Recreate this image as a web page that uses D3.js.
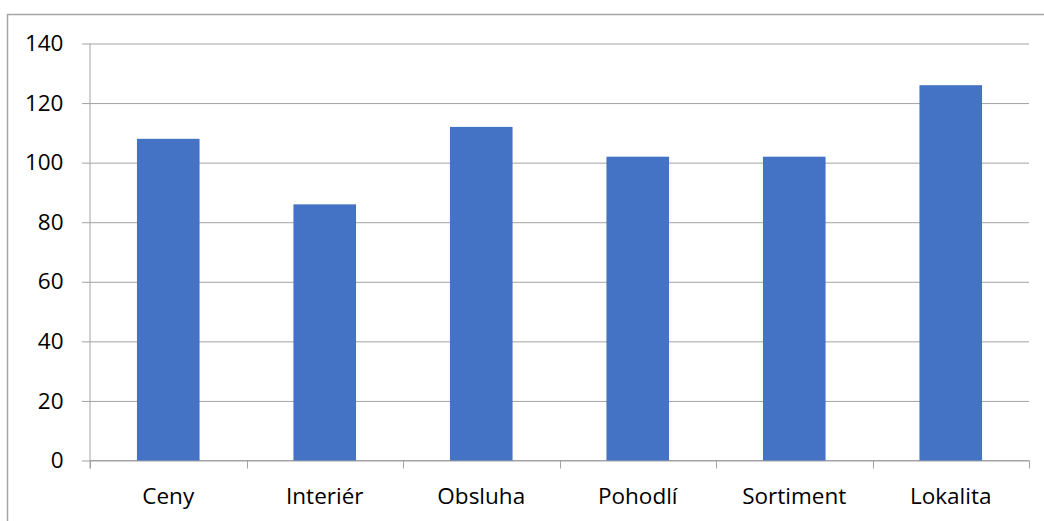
<!DOCTYPE html>
<html>
<head>
<meta charset="utf-8">
<script src="https://cdn.jsdelivr.net/npm/d3@7"></script>
<style>
  body { margin: 0; background: #fff; }
  svg { display: block; font-family: "Open Sans", sans-serif; }
</style>
</head>
<body>
<svg width="1044" height="521"></svg>
<script>
// data
const categories = ["Ceny", "Interiér", "Obsluha", "Pohodlí", "Sortiment", "Lokalita"]
const values = [108, 86, 112, 102, 102, 126]
const yTicks = [0, 20, 40, 60, 80, 100, 120, 140]

const width = 1044
const height = 521
const plotLeft = 90, plotRight = 1029, plotTop = 43.5, plotBottom = 460.5
const gridColor = "#a3a3a3"

const svg = d3.select("svg")

// outer chart border (runs off the right and bottom edges)
svg.append("rect")
  .attr("x", 7.5)
  .attr("y", 14.5)
  .attr("width", width)
  .attr("height", height)
  .style("fill", "none")
  .style("stroke", "#a6a6a6")
  .style("stroke-width", 1.5)

// scales
const x = d3.scaleBand()
  .domain(categories)
  .range([plotLeft, plotRight])
  .paddingInner(0.6)
  .paddingOuter(0.3)

const y = d3.scaleLinear()
  .domain([0, 140])
  .range([plotBottom, plotTop])

//################### grid + y axis ####################

const grid = svg.append("g")
  .attr("transform", "translate(" + plotLeft + ",0)")
  .call(d3.axisLeft(y).tickValues(yTicks).tickSize(-(plotRight - plotLeft)).tickFormat(""))
grid.select(".domain").remove()
grid.selectAll("line").style("stroke", gridColor)

const yaxis_group = svg.append("g")
  .attr("transform", "translate(" + plotLeft + ",0)")
  .call(d3.axisLeft(y).tickValues(yTicks).tickSizeInner(8).tickSizeOuter(0).tickPadding(18.5))
yaxis_group.select(".domain")
  .attr("d", "M0," + plotTop + "V" + (plotBottom + 8))
yaxis_group.selectAll("line,path").style("stroke", gridColor)
yaxis_group.selectAll("text")
  .style("font-family", "Open Sans")
  .style("font-size", "22.5px")
  .style("fill", "#000")

//################### x axis ####################

const xaxis_group = svg.append("g")
  .attr("transform", "translate(0," + plotBottom + ")")
  .call(d3.axisBottom(x).tickSize(0).tickPadding(27.5))
xaxis_group.select(".domain")
  .attr("d", "M" + plotLeft + ",0H" + plotRight)
  .style("stroke", gridColor)
xaxis_group.selectAll("text")
  .style("font-family", "Open Sans")
  .style("font-size", "22.5px")
  .style("fill", "#000")

// category boundary ticks
const boundaries = d3.range(categories.length + 1).map(i => plotLeft + i * x.step())
svg.append("g")
  .selectAll("line")
  .data(boundaries)
  .join("line")
  .attr("x1", d => Math.round(d) + 0.5)
  .attr("x2", d => Math.round(d) + 0.5)
  .attr("y1", plotBottom)
  .attr("y2", plotBottom + 8)
  .style("stroke", gridColor)

//################### bars ####################

svg.append("g")
  .selectAll("rect")
  .data(values)
  .join("rect")
  .attr("x", (d, i) => x(categories[i]))
  .attr("y", d => y(d))
  .attr("width", x.bandwidth())
  .attr("height", d => y(0) - y(d))
  .attr("fill", "#4472c4")
</script>
</body>
</html>
